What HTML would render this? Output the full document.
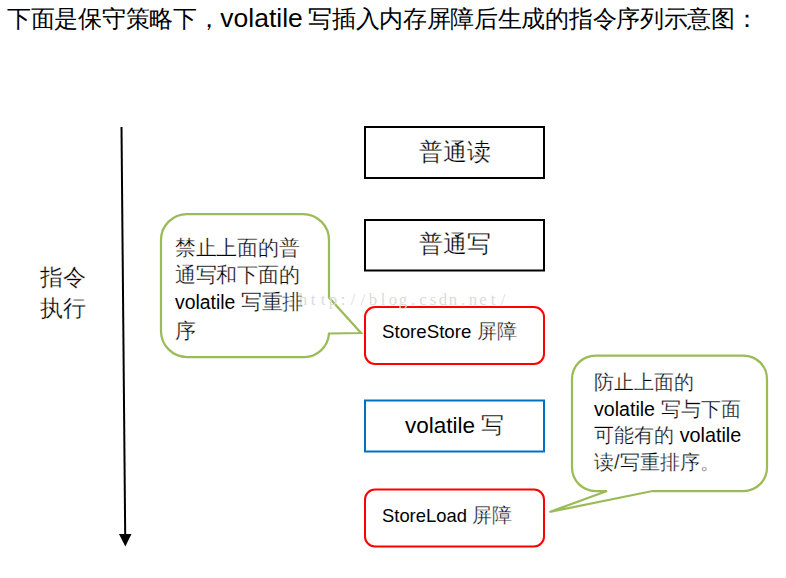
<!DOCTYPE html>
<html><head><meta charset="utf-8">
<style>
html,body{margin:0;padding:0;background:#fff;}
body{width:786px;height:578px;position:relative;overflow:hidden;font-family:"Liberation Sans",sans-serif;color:#000;}
svg{position:absolute;left:0;top:0;}
.t{position:absolute;white-space:nowrap;line-height:1;-webkit-text-stroke:0.3px #fff;}
#wm,.l{-webkit-text-stroke:0;}
#wm span{display:inline-block;width:10px;text-align:center;}
</style></head><body>
<svg width="786" height="578" viewBox="0 0 786 578">
  <line x1="121.5" y1="127" x2="125.2" y2="536" stroke="#000" stroke-width="2"/>
  <polygon points="119,534 131.5,534 125.3,546.5" fill="#000"/>
  <rect x="365" y="127" width="179" height="51" fill="none" stroke="#000" stroke-width="2"/>
  <rect x="365" y="220" width="179" height="50.5" fill="none" stroke="#000" stroke-width="2"/>
  <rect x="365" y="307" width="179" height="57" rx="10" fill="none" stroke="#f00" stroke-width="2"/>
  <rect x="365" y="400.5" width="179" height="51" fill="none" stroke="#0070c0" stroke-width="2"/>
  <rect x="365" y="489.5" width="179" height="57" rx="10" fill="none" stroke="#f00" stroke-width="2"/>
  <path d="M187,214 H303 A26,26 0 0 1 329,240 V297.5 L361,333 L329,333.5 A25,25 0 0 1 303,357 H187 A26,26 0 0 1 161,331 V240 A26,26 0 0 1 187,214 Z" fill="none" stroke="#9bbb59" stroke-width="2.25" stroke-linejoin="miter"/>
  <path d="M595.5,355.5 H743.5 A23.5,23.5 0 0 1 767,379.0 V467.5 A23.5,23.5 0 0 1 743.5,491 H652.5 L549.5,512 L607,491 H595.5 A23.5,23.5 0 0 1 572,467.5 V379.0 A23.5,23.5 0 0 1 595.5,355.5 Z" fill="none" stroke="#9bbb59" stroke-width="2.25" stroke-linejoin="miter"/>
</svg>
<div class="t" id="wm" style="left:298px;top:290px;font-family:'Liberation Serif',serif;font-size:16.8px;line-height:20px;color:#dcdcd6"><span>h</span><span>t</span><span>t</span><span>p</span><span>:</span><span>/</span><span>/</span><span>b</span><span>l</span><span>o</span><span>g</span><span>.</span><span>c</span><span>s</span><span>d</span><span>n</span><span>.</span><span>n</span><span>e</span><span>t</span><span>/</span></div>
<div class="t" id="title" style="-webkit-text-stroke:0;left:7px;top:4.5px;font-size:24px;letter-spacing:-0.3px;line-height:26px">下面是保守策略下，<span class="l" style="font-size:26.5px;letter-spacing:0;margin-right:-1px">volatile</span> 写插入内存屏障后生成的指令序列示意图：</div>
<div class="t" id="b1" style="left:419px;top:139.5px;font-size:24px">普通读</div>
<div class="t" id="b2" style="left:419px;top:232px;font-size:24px">普通写</div>
<div class="t" id="b3" style="left:382px;top:321px;font-size:20px;line-height:20px"><span class="l" style="font-size:18.7px">StoreStore</span> 屏障</div>
<div class="t" id="b4" style="left:405px;top:414px;font-size:23px;line-height:23px"><span class="l" style="font-size:22.5px">volatile</span> 写</div>
<div class="t" id="b5" style="left:382px;top:504.5px;font-size:20px;line-height:20px"><span class="l" style="font-size:18.4px">StoreLoad</span> 屏障</div>
<div class="t" id="lab" style="left:40px;top:261.5px;font-size:22.5px;line-height:31.5px">指令<br>执行</div>
<div class="t" id="c1" style="left:175px;top:234px;font-size:21px;letter-spacing:-0.3px;line-height:27.2px">禁止上面的普<br>通写和下面的<br><span class="l" style="font-size:19.4px;letter-spacing:0">volatile</span> 写重排<br>序</div>
<div class="t" id="c2" style="left:594px;top:369px;font-size:20.3px;line-height:26.6px">防止上面的<br><span class="l" style="font-size:19.6px">volatile</span> 写与下面<br>可能有的 <span class="l" style="font-size:19.8px">volatile</span><br>读/写重排序。</div>
</body></html>
